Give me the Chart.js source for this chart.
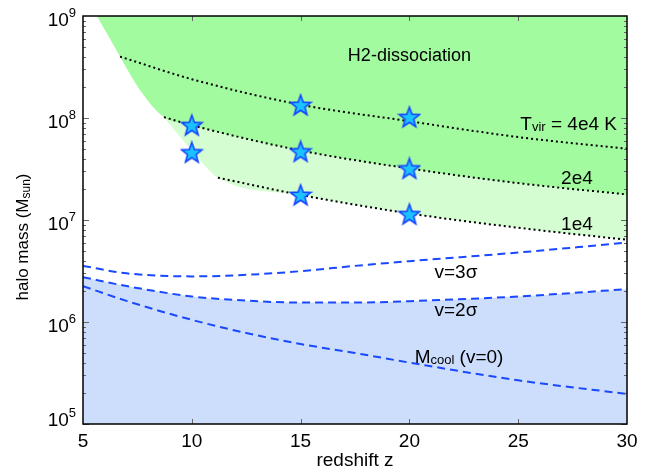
<!DOCTYPE html>
<html lang="en">
<head>
<meta charset="UTF-8">
<title>halo mass vs redshift</title>
<style>
  html, body { margin: 0; padding: 0; background: #fff; }
</style>
</head>
<body>
<canvas id="massChart" width="649" height="475"></canvas>
<script src="https://cdn.jsdelivr.net/npm/chart.js"></script>
<script>
// left edge of the green (H2-dissociation) region
const edgeZ = [5.64, 6.2, 6.7, 7.6, 8.72, 10, 11.2];
const edgeM = [1e9, 6.2e8, 4.0e8, 1.9e8, 1.02e8, 4.8e7, 2.6e7];

// Tvir = 4e4, 2e4, 1e4 K
const t4Z = [6.7, 10, 15, 20, 25, 30];
const t4M = [4.0e8, 2.4e8, 1.35e8, 9.3e7, 6.5e7, 5.0e7];
const t2Z = [8.72, 10, 15, 20, 25, 30];
const t2M = [1.02e8, 8.5e7, 4.8e7, 3.2e7, 2.3e7, 1.78e7];
const t1Z = [11.2, 15, 20, 25, 30];
const t1M = [2.6e7, 1.76e7, 1.16e7, 8.4e6, 6.4e6];

// v=3sigma, v=2sigma, Mcool(v=0)
const vZ = [5, 7, 10, 12.5, 15, 17.5, 20, 25, 30];
const v3M = [3.55e6, 3.0e6, 2.8e6, 2.9e6, 3.15e6, 3.55e6, 3.95e6, 4.8e6, 6.0e6];
const v2M = [2.75e6, 2.25e6, 1.78e6, 1.62e6, 1.55e6, 1.55e6, 1.6e6, 1.78e6, 2.1e6];
const coolM = [2.25e6, 1.61e6, 1.05e6, 7.8e5, 6.08e5, 4.97e5, 4.0e5, 2.68e5, 1.97e5];

// stars
const starZ = [10, 10, 15, 15, 15, 20, 20, 20];
const starM = [8.5e7, 4.6e7, 1.34e8, 4.7e7, 1.76e7, 1.02e8, 3.2e7, 1.14e7];

const xTicks = [5, 10, 15, 20, 25, 30];
const yExps = [5, 6, 7, 8, 9];

const FONT = '"Liberation Sans", Arial, Helvetica, sans-serif';
Chart.defaults.font.family = FONT;

const pts = (xs, ys) => xs.map((x, i) => ({ x: x, y: ys[i] }));

const darkEdge = pts(edgeZ.slice(0, 5), edgeM.slice(0, 5)).concat(pts(t2Z.slice(1), t2M.slice(1)));
const lightEdge = pts(edgeZ.slice(4), edgeM.slice(4)).concat(pts(t1Z.slice(1), t1M.slice(1)));

const starImg = (() => {
  const c = document.createElement('canvas');
  c.width = 24; c.height = 24;
  const g = c.getContext('2d');
  g.beginPath();
  for (let i = 0; i < 10; i++) {
    const r = i % 2 ? 4.5 : 10.8;
    const a = -Math.PI / 2 + i * Math.PI / 5;
    g.lineTo(12 + r * Math.cos(a), 12.8 + r * Math.sin(a));
  }
  g.closePath();
  g.fillStyle = '#1ac3ff';
  g.fill();
  g.lineWidth = 1.6;
  g.strokeStyle = '#1646ff';
  g.stroke();
  return c;
})();

function fillSet(data, fill, color, order) {
  return { data: data, fill: fill, backgroundColor: color, borderWidth: 0,
    pointRadius: 0, cubicInterpolationMode: 'monotone', order: order };
}
function curve(data, color, dash, order) {
  return { data: data, fill: false, borderColor: color, borderWidth: 2, borderDash: dash,
    pointRadius: 0, cubicInterpolationMode: 'monotone', order: order };
}

// draw text pieces of different sizes on one line: segs = [text, size, dy]
function drawRich(ctx, segs, x, y, align) {
  let w = 0;
  segs.forEach(s => { ctx.font = s[1] + 'px ' + FONT; w += ctx.measureText(s[0]).width; });
  let cx = align === 'center' ? x - w / 2 : align === 'right' ? x - w : x;
  const base = y + segs[0][1] * 0.36;
  ctx.textAlign = 'left';
  ctx.textBaseline = 'alphabetic';
  segs.forEach(s => {
    ctx.font = s[1] + 'px ' + FONT;
    ctx.fillText(s[0], cx, base + (s[2] || 0));
    cx += ctx.measureText(s[0]).width;
  });
}

const decor = {
  id: 'decor',
  afterDatasetsDraw(chart) {
    const { ctx, chartArea: a, scales: { x, y } } = chart;
    ctx.save();
    // inward ticks
    ctx.strokeStyle = '#666';
    ctx.lineWidth = 1;
    ctx.beginPath();
    xTicks.slice(1, -1).forEach(v => {
      const px = Math.round(x.getPixelForValue(v)) + 0.5;
      ctx.moveTo(px, a.bottom); ctx.lineTo(px, a.bottom - 5);
      ctx.moveTo(px, a.top); ctx.lineTo(px, a.top + 5);
    });
    for (let e = yExps[0]; e < yExps[yExps.length - 1]; e++) {
      for (let k = 1; k < 10; k++) {
        const py = Math.round(y.getPixelForValue(k * Math.pow(10, e))) + 0.5;
        const len = k === 1 ? 6 : 3;
        ctx.moveTo(a.left, py); ctx.lineTo(a.left + len, py);
        ctx.moveTo(a.right, py); ctx.lineTo(a.right - len, py);
      }
    }
    ctx.stroke();
    // frame
    ctx.strokeStyle = '#000';
    ctx.lineWidth = 1.5;
    ctx.strokeRect(a.left, a.top, a.right - a.left, a.bottom - a.top);

    ctx.fillStyle = '#000';
    // y tick labels
    yExps.forEach((e, i) => {
      let py = y.getPixelForValue(Math.pow(10, e)) + 3;
      if (i === 0) py -= 8;
      drawRich(ctx, [['10', 19], [String(e), 13, -9]], a.left - 7, py, 'right');
    });

    // y title
    ctx.save();
    ctx.translate(22, 237);
    ctx.rotate(-Math.PI / 2);
    drawRich(ctx, [['halo mass (M', 17], ['sun', 12, 2], [')', 17]], 0, 0, 'center');
    ctx.restore();

    // annotations
    const notes = [
      { segs: [['H2-dissociation', 18]], z: 20, m: 4.15e8, align: 'center' },
      { segs: [['T', 19], ['vir', 13, 1], [' = 4e4 K', 19]], z: 29.54, m: 8.9e7, align: 'right' },
      { segs: [['2e4', 19]], z: 27.7, m: 2.64e7, align: 'center' },
      { segs: [['1e4', 19]], z: 27.7, m: 9.35e6, align: 'center' },
      { segs: [['v=3\u03c3', 19]], z: 22.14, m: 3.16e6, align: 'center' },
      { segs: [['v=2\u03c3', 19]], z: 22.14, m: 1.34e6, align: 'center' },
      { segs: [['M', 19], ['cool', 13, 1], [' (v=0)', 19]], z: 22.28, m: 4.6e5, align: 'center' }
    ];
    notes.forEach(n => drawRich(ctx, n.segs, x.getPixelForValue(n.z), y.getPixelForValue(n.m), n.align));
    ctx.restore();
  }
};

new Chart(document.getElementById('massChart'), {
  type: 'line',
  data: {
    datasets: [
      fillSet(pts(vZ, v2M), 'start', '#ccdefc', 10),
      fillSet(lightEdge, 'end', '#d5fdd2', 9),
      fillSet(darkEdge, 'end', '#a3fba0', 8),
      curve(pts(t4Z, t4M), '#000', [2, 3], 5),
      curve(pts(t2Z, t2M), '#000', [2, 3], 5),
      curve(pts(t1Z, t1M), '#000', [2, 3], 5),
      curve(pts(vZ, v3M), '#1a48ff', [8, 5], 4),
      curve(pts(vZ, v2M), '#1a48ff', [8, 5], 4),
      curve(pts(vZ, coolM), '#1a48ff', [8, 5], 4),
      { data: pts(starZ, starM), showLine: false, pointStyle: starImg, pointRadius: 10, order: 1 }
    ]
  },
  options: {
    responsive: false,
    animation: false,
    events: [],
    layout: { padding: { top: 16, right: 22, left: 0, bottom: 0 } },
    plugins: { legend: { display: false }, tooltip: { enabled: false } },
    scales: {
      x: {
        type: 'linear', min: 5, max: 30,
        afterBuildTicks: s => { s.ticks = xTicks.map(v => ({ value: v })); },
        afterFit: s => { s.height = 51; },
        grid: { display: false, drawTicks: false },
        border: { display: false },
        ticks: { color: '#000', font: { size: 19 }, padding: 6, maxRotation: 0 },
        title: { display: true, text: 'redshift z', color: '#000', font: { size: 19 }, padding: { top: 0, bottom: 3 } }
      },
      y: {
        type: 'logarithmic', min: 1e5, max: 1e9,
        afterFit: s => { s.width = 83; },
        grid: { display: false, drawTicks: false },
        border: { display: false },
        ticks: { display: false }
      }
    }
  },
  plugins: [decor]
});
</script>
</body>
</html>
